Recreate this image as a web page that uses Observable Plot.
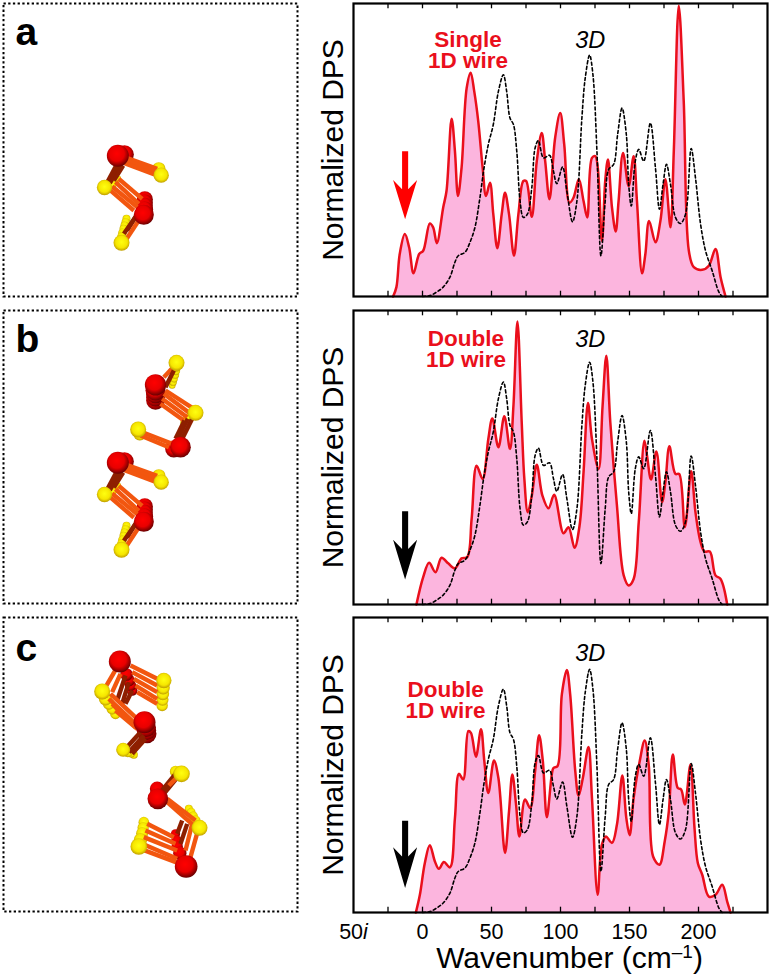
<!DOCTYPE html>
<html><head><meta charset="utf-8">
<script src="https://cdn.jsdelivr.net/npm/d3@7"></script>
<script src="https://cdn.jsdelivr.net/npm/@observablehq/plot@0.6"></script>
<style>
html,body{margin:0;padding:0;background:#fff}
body{position:relative;width:770px;height:978px;overflow:hidden}
#page svg.p{position:absolute}
</style></head><body>
<svg width="0" height="0" style="position:absolute">
<defs>
<radialGradient id="ballRed" cx="45%" cy="40%" r="62%"><stop offset="0" stop-color="#ff0000"/><stop offset="0.55" stop-color="#e80000"/><stop offset="1" stop-color="#5e0000"/></radialGradient>
<radialGradient id="ballYellow" cx="50%" cy="45%" r="60%"><stop offset="0" stop-color="#ffff10"/><stop offset="0.6" stop-color="#f6e600"/><stop offset="1" stop-color="#b08a00"/></radialGradient>
</defs></svg>
<div id="page"></div>
<script>
// 3D reference spectrum
const wn3D=[0,5.3,10.2,15,19.9,23.5,25.9,30.8,34.4,38,41.6,44.6,47.7,51.3,55,58.6,61,63.4,65.9,68.3,70.7,73.1,76,79.2,81.6,84,87.7,92,94.9,97.3,101.5,104.6,108.7,111.9,115.5,117.9,121.1,123.5,126.4,129.3,132.4,134.9,138.5,141.4,144.6,147.7,149.4,151.3,154.2,156.7,160.3,165.1,168.8,171.7,174.3,176.8,179.7,183.3,186.9,190.6,194.7,197.8,201.5,205.1,209.9,214.8,217.2];
const dps3D=[0,.3,1.5,3.2,6.6,11.7,13.9,15.1,18.5,23.6,33.7,43.9,51.9,58.7,70,75.7,70,60.9,58.7,49.6,32.6,27,28.1,37.1,50.7,53.2,47.3,48.2,42.8,38.5,44.2,36,25.5,32.6,60.9,74.5,82.4,75.7,49.6,13.9,32.6,43.4,45.1,55.3,64.3,55.3,38.3,30.9,46.2,50.2,46.2,59.2,43.9,29.8,38.3,45.1,38.3,27,24.9,28.1,50.5,40.5,24.7,15.6,8.8,1.5,0];
// panel a: single 1D wire
const wnA=[-21.3,-18.9,-16.5,-12.8,-9.7,-6.5,-2.4,.5,5.3,7.7,10.4,15,17.4,21.1,23.5,25.7,28.3,32,34.9,37.5,40.4,43.6,46,48.9,51.3,54.2,57.4,59.8,62.7,66.3,69.5,73.1,75.1,79.2,82.8,86.4,88.9,92,96.1,99.8,102.7,106.5,109.4,113.3,116.7,119.4,122.8,125.2,130,132.4,134.4,137.3,140,142.1,145.3,149.4,153,155.4,159.1,161.5,164.2,168.8,172.4,176,179.7,182.1,185.7,189.3,193,196.6,202.7,207.5,212.3,216,219.6];
const dpsA=[0,3.2,14.5,21.3,16.8,7.9,14.5,15.6,24.9,23.6,18.2,30.4,36,60.7,49.6,34.3,43.9,71.1,76.4,70,59.8,43.9,34.3,38.8,28.1,16.5,28.1,35.4,28.1,13.9,28.1,39.4,39.4,27.2,46.2,55.8,46.2,33.2,54.1,62.6,51.9,32,33.7,40,32.6,27,47.3,47.9,19,39.4,46.8,30.4,22.2,32.6,49,37.7,47.9,32.6,7.9,14.5,25.8,18.5,25.8,40,23.6,49.6,99.2,66.6,15.6,10,9.1,10.5,16.2,6.6,0];
// panel b: double 1D wire
const wnB=[-4.4,.5,4.8,9.4,13.8,18.6,23.5,28.3,32.4,35.6,39.2,43.6,47.7,50.6,55,59.3,63.4,65.9,68.8,71.9,73.8,76.3,79.2,82.8,86.9,91.3,95.4,102.2,105.8,110.2,113.8,116.7,119.9,122.8,127.6,130.5,133.2,136.1,140.9,145.8,149.4,153,156.7,160.8,162.7,165.6,169.5,173.6,176,178.9,183.3,186,190.1,194.7,197.8,201.5,204.4,208.2,212.3,216,220.8];
const dpsB=[0,9.3,14.2,11,15.9,14,12.3,15.7,16.1,29.1,47.2,42.7,56.3,63.3,53.5,64,52.9,67.6,96.3,61.9,42.7,31.4,37,47.5,37,32.7,37.3,24.2,26.3,19.3,26.8,45,68.5,56.3,46.1,67.6,84.6,61.9,33.6,9.9,6.5,8.7,28,55.7,50.6,42.5,52,34.8,41.6,53.8,44.4,44.4,26.3,45.3,31.4,21.2,18,18,9.9,8.7,0];
// panel c: double 1D wire, second arrangement
const wnC=[-4.8,-1.9,1.7,5.3,9,11.9,15.5,19.9,23.5,26.4,29.5,33.2,35.1,38.7,42.4,44.8,47.7,51.8,55,59.8,62.7,65.1,67.8,70.2,74.3,78,81.6,84.5,87.2,90.1,93.7,94.9,97.8,101,104.6,107,110.7,113.1,116.2,120.3,122.8,126.9,130,132.9,137.3,140.9,144.8,147.7,150.1,153,157.4,161,163.9,167.1,171.7,175.5,178.5,181.4,185,187.4,190.1,194.2,197.1,199.5,202.7,207.5,212.3,217.2,220.8,223.2];
const dpsC=[0,6,16.8,22.8,17.3,14.8,17.1,15.3,32,47,45.1,61.5,60.9,52.8,62.1,51.3,40.5,51.5,45.6,20.2,34.3,46.8,36.6,25.8,38.3,35.4,47.9,60.1,51.3,32.3,46.8,49,49.6,74,82.2,74,47.9,39.6,45.6,56.1,38.8,6,23,25.8,23.6,29.8,46.4,32,26.2,38.8,51.3,58.3,50.2,19,16.2,24.1,34.3,53.6,42.2,41.7,36.6,50.2,28.7,16.8,12.8,5.4,6,9.4,3.7,0];
// axes
const minorTicks=[-25,0,25,50,75,100,125,150,175,200,225];
const labelTicks=[-50,0,50,100,150,200];
// arrows (wavenumber, DPS)
const arrowWn=[-14.8,-10.4,-10.4,-3.9,-12.6,-21.3,-14.8];
const arrowA=[49.6,49.6,36.6,39.8,26.4,39.8,36.6];
const arrowB=[31.7,31.7,18.9,22,8.5,22,18.9];
const arrowC=[31.1,31.1,19,22.1,8.3,22.1,19];
// molecule drawings: atoms [x,y,radius,element], bonds [x1,y1,x2,y2,kind]
const molABack=[[372,462,28,"r"],[433,596,24,"r"],[433,606,24,"r"],[433,616,24,"r"],[432,628,26,"r"],[475,505,20,"y"],[352,535,10,"y"],[348,540,10,"y"],[343,547,11,"y"],[337,552,11,"y"],[378,655,12,"y"],[375,665,12,"y"],[372,675,12,"y"],[369,685,12,"y"],[366,697,13,"y"],[363,708,13,"y"]];
const molABonds=[[378,472,470,505,"o"],[378,480,472,515,"o"],[372,488,470,525,"o"],[350,490,318,550,"d"],[360,490,328,548,"d"],[368,495,340,540,"d"],[355,535,425,595,"o"],[345,545,415,610,"o"],[335,558,410,620,"o"],[328,568,400,630,"o"],[410,640,380,690,"d"],[418,655,375,720,"o"],[405,650,370,700,"d"]];
const molAFront=[[352,466,33,"r"],[430,643,30,"r"],[482,524,23,"y"],[312,561,23,"y"],[363,727,24,"y"]];
const molBBack=[[465,285,28,"r"],[465,275,28,"r"],[465,265,28,"r"],[465,255,30,"r"],[515,240,10,"y"],[518,230,11,"y"],[521,220,11,"y"],[524,208,12,"y"],[526,196,13,"y"],[527,185,14,"y"],[418,385,20,"y"],[520,430,26,"r"],[548,352,9,"y"],[553,345,10,"y"],[558,338,11,"y"],[565,335,12,"y"]];
const molBBonds=[[490,215,525,178,"o"],[495,245,520,195,"d"],[495,255,580,310,"o"],[490,265,570,325,"o"],[485,280,560,335,"o"],[480,295,550,345,"o"],[575,340,540,410,"d"],[562,340,530,405,"d"],[552,345,525,400,"d"],[420,378,515,415,"o"],[420,390,505,425,"o"]];
const molBFront=[[465,238,32,"r"],[540,425,31,"r"],[528,172,24,"y"],[585,322,24,"y"],[413,372,24,"y"]];
const molCBack=[[395,240,16,"r"],[390,225,17,"r"],[385,210,18,"r"],[378,192,19,"r"],[440,370,28,"r"],[438,360,29,"r"],[436,350,30,"r"],[485,285,17,"y"],[486,268,18,"y"],[487,250,19,"y"],[488,232,20,"y"],[345,310,16,"y"],[335,295,17,"y"],[325,280,18,"y"],[315,265,20,"y"],[400,433,12,"y"],[392,428,13,"y"],[382,425,15,"y"],[470,535,22,"r"],[525,483,17,"y"],[565,595,12,"y"],[572,605,13,"y"],[578,617,14,"y"],[585,630,15,"y"],[430,635,16,"y"],[428,652,17,"y"],[425,668,18,"y"],[420,688,20,"y"],[525,670,14,"r"],[528,690,16,"r"],[530,708,17,"r"],[538,728,20,"r"]];
const molCBonds=[[390,165,470,205,"o"],[395,185,470,225,"o"],[400,205,470,245,"o"],[405,225,470,265,"o"],[410,245,470,280,"o"],[350,170,315,230,"o"],[360,190,335,245,"o"],[375,195,350,270,"d"],[385,215,365,280,"d"],[395,240,375,280,"d"],[330,250,410,325,"o"],[325,265,405,340,"o"],[335,280,405,350,"o"],[345,300,410,355,"o"],[420,365,375,415,"d"],[430,375,385,425,"d"],[435,385,395,430,"d"],[490,550,535,495,"d"],[480,545,525,490,"d"],[505,525,540,490,"o"],[500,565,585,630,"o"],[500,575,580,645,"o"],[440,640,520,680,"o"],[435,660,525,700,"o"],[430,680,530,720,"o"],[425,700,530,745,"o"],[420,715,540,760,"o"],[595,650,570,740,"o"],[575,640,555,720,"o"],[560,640,540,700,"d"],[545,630,530,670,"d"]];
const molCFront=[[358,153,33,"r"],[432,335,33,"r"],[472,565,31,"r"],[557,768,34,"r"],[490,210,23,"y"],[305,243,24,"y"],[368,418,21,"y"],[543,490,25,"y"],[597,652,24,"y"],[415,708,25,"y"]];

const FONT='"Liberation Sans",Arial,sans-serif';
const RED="#ea0f1c", PINK="#fcb5de", CURVE="catmull-rom";
const page=document.getElementById("page");
const zip=(xs,ys)=>xs.map((x,i)=>({x,y:ys[i]}));
function place(svg,left,top){
  svg.classList.add("p");svg.style.left=left+"px";svg.style.top=top+"px";page.appendChild(svg);return svg;
}
function spectrum({top,frameH,bottomMargin=2,wn,dps,name,nameX,nameY,d3Y,arrow,arrowColor,nameColor=RED,xaxis=false}){
  const rows=zip(wn,dps), ref=zip(wn3D,dps3D);
  const marks=[
    Plot.areaY(rows,{x:"x",y:"y",fill:PINK,curve:CURVE}),
    Plot.line(rows,{x:"x",y:"y",stroke:nameColor,strokeWidth:2.5,curve:CURVE}),
    Plot.line(ref,{x:"x",y:"y",stroke:"#000",strokeWidth:1.6,strokeDasharray:"3 2.6",curve:CURVE}),
    Plot.line(zip(arrowWn,arrow),{x:"x",y:"y",fill:arrowColor,stroke:"none"}),
    Plot.ruleX(minorTicks,{y1:0,y2:1.8,stroke:"#000",strokeWidth:1.3}),
    Plot.ruleX(minorTicks,{y1:98.2,y2:100,stroke:"#000",strokeWidth:1.3}),
    Plot.text([name],{x:()=>nameX,y:()=>nameY,fill:nameColor,fontWeight:"bold",fontSize:22.5,lineHeight:0.94,fontFamily:FONT}),
    Plot.text(["3D"],{x:()=>121.5,y:()=>d3Y,fill:"#000",fontStyle:"italic",fontSize:23.5,fontFamily:FONT}),
    Plot.text(["Normalized DPS"],{frameAnchor:"left",textAnchor:"middle",dx:-20,rotate:-90,fontSize:30,fill:"#000",fontFamily:FONT}),
    Plot.frame({stroke:"#000",strokeWidth:2.2})
  ];
  if(xaxis){
    marks.push(
      Plot.axisX(labelTicks,{anchor:"bottom",tickSize:0,tickPadding:11,label:null,fontSize:21.5,fill:"#000",fontFamily:FONT,
        tickFormat:d=>d<0?`${-d}i`:`${d}`}),
      Plot.text(["Wavenumber (cm–1)"],{frameAnchor:"bottom",textAnchor:"middle",dx:9,dy:55,fontSize:30,fill:"#000",fontFamily:FONT})
    );
  }
  const svg=Plot.plot({width:459,height:frameH+2+bottomMargin,marginLeft:43,marginRight:2,marginTop:2,marginBottom:bottomMargin,
    x:{domain:[-50,250],axis:null},y:{domain:[0,100],axis:null},
    style:{background:"transparent",fontFamily:FONT,overflow:"visible"},marks});
  d3.select(svg).selectAll("text").each(function(){
    const t=this.textContent;
    if(t==="50i"){const e=d3.select(this);(e.select("tspan").empty()?e:e.select("tspan")).html('50<tspan font-style="italic">i</tspan>');}
    if(t.startsWith("Wavenumber")){const e=d3.select(this);(e.select("tspan").empty()?e:e.select("tspan")).html('Wavenumber (cm<tspan dy="-10" font-size="19">–1</tspan><tspan dy="10">)</tspan>');}
  });
  place(svg,310,top);
}
function molecule({top,h,label,labelY,layers}){
  const fillOf=d=>d[3]==="r"?"url(#ballRed)":"url(#ballYellow)";
  const marks=[];
  for(const {back,bonds,front} of layers){
    marks.push(
      Plot.dot(back,{x:d=>d[0],y:d=>d[1],r:d=>d[2],fill:fillOf,sort:null}),
      Plot.link(bonds,{x1:d=>d[0],y1:d=>d[1],x2:d=>d[2],y2:d=>d[3],stroke:d=>d[4]==="o"?"#f2560f":"#8e1f00",strokeWidth:4.4}),
      Plot.dot(front,{x:d=>d[0],y:d=>d[1],r:d=>d[2],fill:fillOf,sort:null})
    );
  }
  marks.push(
    Plot.frame({stroke:"#000",strokeWidth:2,strokeDasharray:"2.3 2.4"}),
    Plot.text([label],{x:()=>36,y:()=>labelY,textAnchor:"start",lineAnchor:"bottom",fontSize:39,fontWeight:"bold",fill:"#000",fontFamily:FONT})
  );
  const svg=Plot.plot({width:298,height:h,margin:2,
    x:{domain:[0,882],axis:null},y:{domain:[0,(h-4)*3],reverse:true,axis:null},
    r:{type:"linear",domain:[0,90],range:[0,30]},color:{type:"identity"},
    style:{background:"transparent",fontFamily:FONT},marks});
  place(svg,1,top);
}
// molecule coordinates are measured from a crop corner; shift to the panel's frame corner
const shift=(a,dx,dy)=>a.map(d=>d.length===4?[d[0]+dx,d[1]+dy,d[2],d[3]]:[d[0]+dx,d[1]+dy,d[2]+dx,d[3]+dy,d[4]]);
molecule({top:1,h:297,label:"a",labelY:124,layers:[{back:shift(molABack,-9,-9),bonds:shift(molABonds,-9,-9),front:shift(molAFront,-9,-9)}]});
molecule({top:308,h:297,label:"b",labelY:124,layers:[
  {back:shift(molABack,-9,-9),bonds:shift(molABonds,-9,-9),front:shift(molAFront,-9,-9)},
  {back:shift(molBBack,-9,-15),bonds:shift(molBBonds,-9,-15),front:shift(molBFront,-9,-15)}]});
molecule({top:615,h:298,label:"c",labelY:130,layers:[{back:shift(molCBack,-9,-21),bonds:shift(molCBonds,-9,-21),front:shift(molCFront,-9,-21)}]});

spectrum({top:1,frameH:293,wn:wnA,dps:dpsA,name:"Single\n1D wire",nameX:33,nameY:84,d3Y:87.5,arrow:arrowA,arrowColor:"#ff0000"});
spectrum({top:308,frameH:294,wn:wnB,dps:dpsB,name:"Double\n1D wire",nameX:31.5,nameY:86.6,d3Y:90,arrow:arrowB,arrowColor:"#000"});
spectrum({top:615,frameH:295,bottomMargin:66,wn:wnC,dps:dpsC,name:"Double\n1D wire",nameX:16.7,nameY:71.7,d3Y:87.8,arrow:arrowC,arrowColor:"#000",xaxis:true});
</script>
</body></html>
